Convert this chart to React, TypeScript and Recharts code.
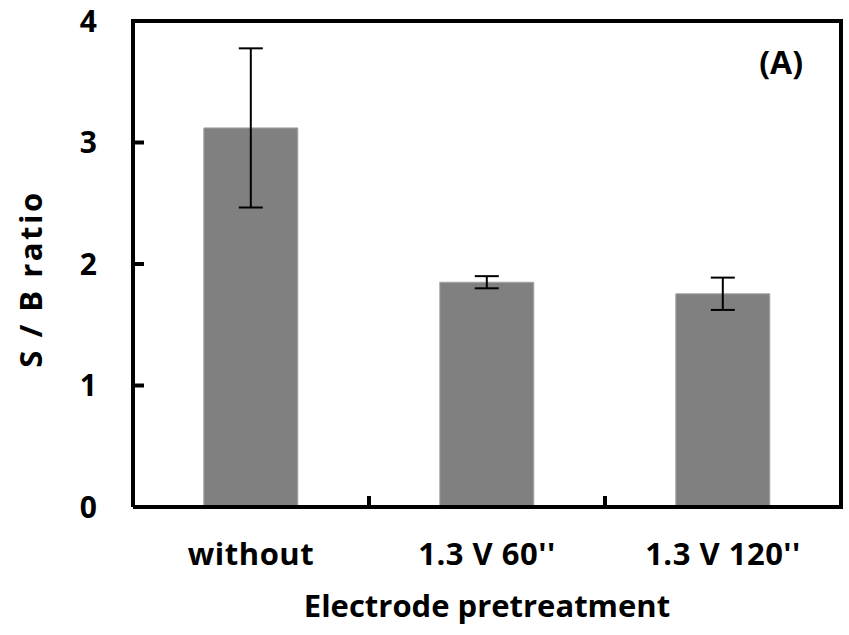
import { BarChart, Bar, XAxis, YAxis, ErrorBar } from 'recharts'

const categories = ['without', '1.3 V 60\'\'', '1.3 V 120\'\'']
const ratios = [3.12, 1.85, 1.755]
const errors = [0.655, 0.05, 0.133]
const yTicks = [0, 1, 2, 3, 4]

const data = categories.map((name, i) => ({ name, ratio: ratios[i], err: errors[i] }))

const FONT = '"Open Sans", sans-serif'
const W = 849
const H = 635
const MARGIN_TOP = 21
const MARGIN_RIGHT = 8
const YAXIS_W = 133
const XAXIS_H = 128
const FRAME = 4
const PLOT_W = W - MARGIN_RIGHT - YAXIS_W
const PLOT_H = H - MARGIN_TOP - XAXIS_H

function YTick(props: any) {
  const { x, y, payload, index, visibleTicksCount } = props
  const isTop = index === visibleTicksCount - 1
  return (
    <g>
      <line x1={x} y1={y} x2={x + 11} y2={y} stroke="#000" strokeWidth={4} />
      {isTop && (
        <line x1={x - FRAME / 2} y1={y} x2={x + PLOT_W + FRAME / 2} y2={y} stroke="#000" strokeWidth={FRAME} />
      )}
      <text x={x - 36} y={y} dy="0.36em" textAnchor="end" fontFamily={FONT} fontWeight={700} fontSize={30} fill="#000">
        {payload.value}
      </text>
    </g>
  )
}

function XTick(props: any) {
  const { x, y, payload, index, visibleTicksCount, width } = props
  const band = Number(width) / visibleTicksCount
  const edge = x + band / 2
  const isLast = index === visibleTicksCount - 1
  return (
    <g>
      {isLast ? (
        <line x1={edge} y1={y + FRAME / 2} x2={edge} y2={y - PLOT_H} stroke="#000" strokeWidth={FRAME} />
      ) : (
        <line x1={edge} y1={y} x2={edge} y2={y - 11} stroke="#000" strokeWidth={4} />
      )}
      <text x={x} y={y + 58} textAnchor="middle" fontFamily={FONT} fontWeight={700} fontSize={31}
        letterSpacing={0.5} fill="#000">
        {payload.value}
      </text>
    </g>
  )
}

function XTitle(p: any) {
  const { x, y, width } = p.viewBox
  return (
    <g>
      <text x={x + width - 38} y={MARGIN_TOP + 53} textAnchor="end" fontFamily={FONT} fontWeight={700}
        fontSize={32} fill="#000">
        (A)
      </text>
      <text x={x + width / 2} y={y + 110} textAnchor="middle" fontFamily={FONT} fontWeight={700}
        fontSize={31} fill="#000">
        Electrode pretreatment
      </text>
    </g>
  )
}

function YTitle(p: any) {
  const cx = 42
  const cy = p.viewBox.y + p.viewBox.height / 2 + 15
  return (
    <text x={cx} y={cy} transform={`rotate(-90 ${cx} ${cy})`} textAnchor="middle" fontFamily={FONT}
      fontWeight={700} fontSize={31} letterSpacing={2.5} fill="#000">
      S / B ratio
    </text>
  )
}

export default function App() {
  return (
    <div style={{ position: 'absolute', left: 0, top: 0, width: W, height: H, background: '#fff' }}>
      <BarChart
        width={W}
        height={H}
        data={data}
        margin={{ top: MARGIN_TOP, right: MARGIN_RIGHT, bottom: 0, left: 0 }}
        barCategoryGap="30%"
      >
        <XAxis
          dataKey="name"
          height={XAXIS_H}
          interval={0}
          tickLine={false}
          tickSize={0}
          tickMargin={0}
          tick={<XTick />}
          axisLine={{ stroke: '#000', strokeWidth: FRAME }}
          label={{ value: 'Electrode pretreatment', content: XTitle }}
        />
        <YAxis
          width={YAXIS_W}
          domain={[0, 4]}
          ticks={yTicks}
          interval={0}
          tickLine={false}
          tickSize={0}
          tickMargin={0}
          tick={<YTick />}
          axisLine={{ stroke: '#000', strokeWidth: FRAME }}
          label={{ value: 'S / B ratio', content: YTitle }}
        />
        <Bar dataKey="ratio" fill="#808080" stroke="#a6a6a6" strokeWidth={1} isAnimationActive={false}>
          <ErrorBar dataKey="err" direction="y" width={12} stroke="#000" strokeWidth={2} />
        </Bar>
      </BarChart>
    </div>
  )
}
